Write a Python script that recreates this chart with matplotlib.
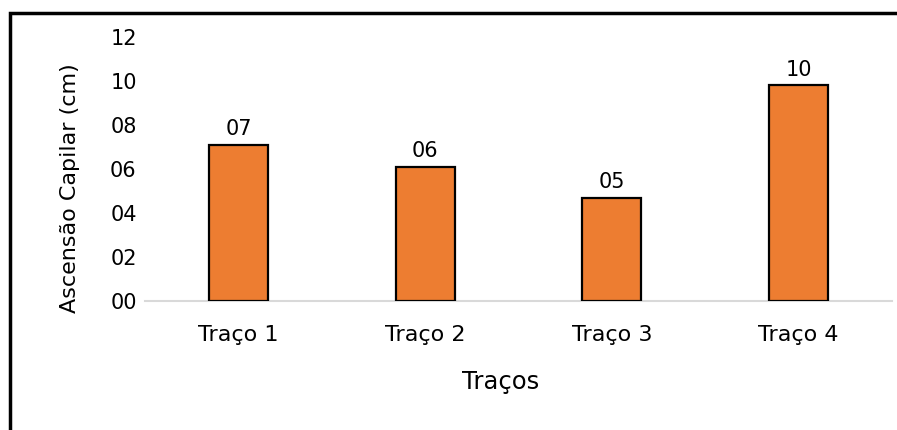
import matplotlib.pyplot as plt
from matplotlib.patches import Rectangle

categorias = ["Traço 1", "Traço 2", "Traço 3", "Traço 4"]
ascensao = [7.1, 6.1, 4.7, 9.8]
yticks = [0, 2, 4, 6, 8, 10, 12]

plt.rcParams['font.family'] = ['DejaVu Sans']

fig = plt.figure(figsize=(8.97, 4.30), dpi=100)
ax = fig.add_axes([0.1617, 0.3, 0.8325, 0.614])

x = range(len(categorias))
bars = ax.bar(x, ascensao, width=0.316, color='#ED7D31', edgecolor='black', linewidth=1.6, zorder=3)

# rótulos de dados no formato "00"
for b, v in zip(bars, ascensao):
    ax.annotate(f"{round(v):02d}", (b.get_x() + b.get_width() / 2, v),
                xytext=(0, 4), textcoords='offset points',
                ha='center', va='bottom', fontsize=15)

ax.set_xlim(-0.5, 3.5)
ax.set_ylim(0, 12)
ax.set_yticks(yticks)
ax.set_yticklabels([f"{t:02d}" for t in yticks], fontsize=15)
ax.set_xticks(list(x))
ax.set_xticklabels(categorias, fontsize=16)
ax.tick_params(axis='both', length=0)
ax.tick_params(axis='y', pad=6)
ax.tick_params(axis='x', pad=17)

for s in ['top', 'right', 'left']:
    ax.spines[s].set_visible(False)
ax.spines['bottom'].set_color('#D9D9D9')
ax.spines['bottom'].set_linewidth(1.5)

fig.text(501 / 897, 1 - 382 / 430, "Traços", ha='center', va='center', fontsize=17.5)
fig.text(70 / 897, 1 - 188 / 430, "Ascensão Capilar (cm)", ha='center', va='center',
         rotation=90, fontsize=16)

# moldura do gráfico
fig.patches.append(Rectangle((10 / 897, -0.1), 1.1, 1 - 13 / 430 + 0.1,
                             transform=fig.transFigure, fill=False,
                             edgecolor='black', linewidth=2.5))

fig.savefig("out.png", dpi=100)
